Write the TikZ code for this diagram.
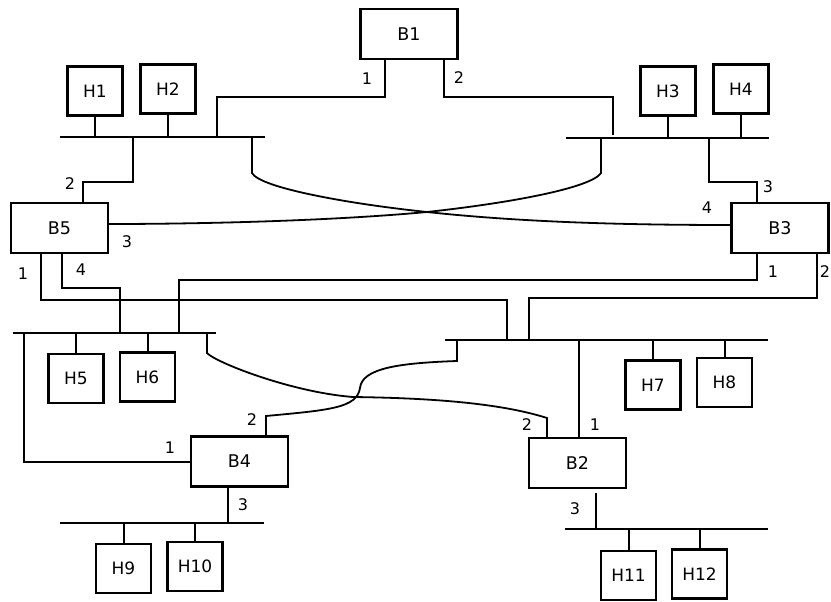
\documentclass[tikz,border=0pt]{standalone}
\usepackage{fontspec}
\setmainfont{DejaVu Sans}
\begin{document}
\begin{tikzpicture}[x=1pt,y=-1pt,
  box/.style={draw,line width=2.2pt,minimum width=97pt,minimum height=50pt,inner sep=0pt,font=\fontsize{17.5}{20}\selectfont},
  host/.style={draw,line width=2.2pt,minimum width=55pt,minimum height=49pt,inner sep=0pt,font=\fontsize{17}{20}\selectfont},
  bus/.style={line width=2.3pt},
  wire/.style={line width=2pt},
  thinwire/.style={line width=1.2pt},
  curvewire/.style={line width=1.8pt},
  port/.style={font=\fontsize{16}{18}\selectfont,inner sep=0pt}]
\useasboundingbox (0,0) rectangle (831,602);

% bridges
\node[box] (B1) at (409,34) {B1};
\node[box] (B5) at (59.5,228) {B5};
\node[box] (B3) at (780,228) {B3};
\node[box] (B4) at (239.5,461.5) {B4};
\node[box] (B2) at (577.5,463) {B2};

% hosts
\node[host] (H1) at (95,91) {H1};
\node[host] (H2) at (168,89) {H2};
\node[host] (H3) at (668,91) {H3};
\node[host] (H4) at (741,89) {H4};
\node[host] (H5) at (76,378.5) {H5};
\node[host] (H6) at (147.5,377) {H6};
\node[host] (H7) at (653,385) {H7};
\node[host] (H8) at (724.5,382.5) {H8};
\node[host] (H9) at (123.5,568.5) {H9};
\node[host] (H10) at (195,566.5) {H10};
\node[host] (H11) at (628.5,575.5) {H11};
\node[host] (H12) at (699.5,574) {H12};

% buses
\coordinate (TLa) at (60,137);  \coordinate (TLb) at (265,137);
\coordinate (TRa) at (566,138); \coordinate (TRb) at (769,138);
\coordinate (MLa) at (13,333);  \coordinate (MLb) at (216,333);
\coordinate (MRa) at (445,340); \coordinate (MRb) at (768,340);
\coordinate (BLa) at (60,523);  \coordinate (BLb) at (264,523);
\coordinate (BRa) at (565,529); \coordinate (BRb) at (768,529);
\draw[bus] (TLa) -- (TLb);
\draw[bus] (TRa) -- (TRb);
\draw[bus] (MLa) -- (MLb);
\draw[bus] (MRa) -- (MRb);
\draw[line width=1.6pt] (BLa) -- (BLb);
\draw[bus] (BRa) -- (BRb);

% host drops
\draw[wire] (H1.south) -- (H1.south |- TLa);
\draw[wire] (H2.south) -- (H2.south |- TLa);
\draw[wire] (H3.south) -- (H3.south |- TRa);
\draw[wire] (H4.south) -- (H4.south |- TRa);
\draw[wire] (H5.north) -- (H5.north |- MLa);
\draw[wire] (H6.north) -- (H6.north |- MLa);
\draw[wire] (H7.north) -- (H7.north |- MRa);
\draw[wire] (H8.north) -- (H8.north |- MRa);
\draw[wire] (H9.north) -- (H9.north |- BLa);
\draw[wire] (H10.north) -- (H10.north |- BLa);
\draw[wire] (H11.north) -- (H11.north |- BRa);
\draw[wire] (H12.north) -- (H12.north |- BRa);

% tap points
\coordinate (tTL1) at (217,137);
\coordinate (tTL2) at (133,137);
\coordinate (tTL3) at (252,137);
\coordinate (tTR1) at (613,135);
\coordinate (tTR2) at (601,138);
\coordinate (tTR3) at (709,138);
\coordinate (tML0) at (24,333);
\coordinate (tML1) at (120,333);
\coordinate (tML2) at (179,333);
\coordinate (tML3) at (207,333);
\coordinate (tMR0) at (457,340);
\coordinate (tMR1) at (507,340);
\coordinate (tMR2) at (529,340);
\coordinate (tMR3) at (579,340);
\coordinate (tBL0) at (228,523);
\coordinate (tBR0) at (596,529);
\coordinate (X) at (427,212);
\coordinate (Y) at (353,397);

% B1
\draw[wire] ([xshift=-24pt]B1.south) -- ++(0,37) -| (tTL1);
\draw[thinwire] ([xshift=35pt]B1.south) -- ++(0,37) -| (tTR1);
% B5 port 2, B3 port 3
\draw[wire] (tTL2) -- ++(0,45) -| ([xshift=23.5pt]B5.north);
\draw[wire] (tTR3) -- ++(0,44) -| ([xshift=-23pt]B3.north);
% crossing curves
\draw[curvewire] (tTL3) -- ++(0,36) .. controls +(8,15) and (350,204) .. (X)
   .. controls (520,222) and (620,225) .. ([yshift=3pt]B3.west);
\draw[curvewire] (tTR2) -- ++(0,35) .. controls +(-10,15) and (510,203) .. (X)
   .. controls (330,221) and (200,224) .. ([yshift=4pt]B5.east);
% B5 ports 1, 4
\draw[wire] ([xshift=-18.5pt]B5.south) -- ++(0,46) -| (tMR1);
\draw[wire] ([xshift=2.5pt]B5.south) -- ++(0,34) -| (tML1);
% B3 ports 1, 2
\draw[wire] ([xshift=-23pt]B3.south) -- ++(0,26) -| (tML2);
\draw[wire] ([xshift=37pt]B3.south) -- ++(0,44) -| (tMR2);
% B4 port 1
\draw[wire] (tML0) |- (B4.west);
% ML bus to B2 port 2
\draw[curvewire] (tML3) -- ++(0,20) .. controls +(8,9) and (290,392) .. (Y)
   .. controls (430,398) and (500,403) .. (547,418) -- ([xshift=-30.5pt]B2.north);
% MR bus to B4 port 2
\draw[curvewire] (tMR0) -- ++(0,21) .. controls (400,363) and (362,368) .. (360,388)
   .. controls (357,408) and (330,410) .. (266,416) -- ([xshift=26.5pt]B4.north);
% B2 port 1
\draw[thinwire] (tMR3) -- (tMR3 |- B2.north);
% B2 port 3
\draw[wire] ([xshift=18.5pt]B2.south) ++(0,4) -- (tBR0);
% B4 port 3
\draw[wire] ([xshift=-11.5pt]B4.south) -- (tBL0);

% port labels
\node[port] (pB1a) at (367,79) {1};
\node[port] (pB1b) at (459,78) {2};
\node[port] (pB5b) at (70,184) {2};
\node[port] (pB3c) at (768,187) {3};
\node[port] (pB5c) at (127,242) {3};
\node[port] (pB3d) at (707,208) {4};
\node[port] (pB5a) at (23,274) {1};
\node[port] (pB5d) at (81,270) {4};
\node[port] (pB3a) at (773,272) {1};
\node[port] (pB3b) at (825,272) {2};
\node[port] (pB4b) at (252,420) {2};
\node[port] (pB4a) at (170,448) {1};
\node[port] (pB4c) at (243,505) {3};
\node[port] (pB2b) at (527,425) {2};
\node[port] (pB2a) at (595,425) {1};
\node[port] (pB2c) at (575,509) {3};
\end{tikzpicture}
\end{document}
